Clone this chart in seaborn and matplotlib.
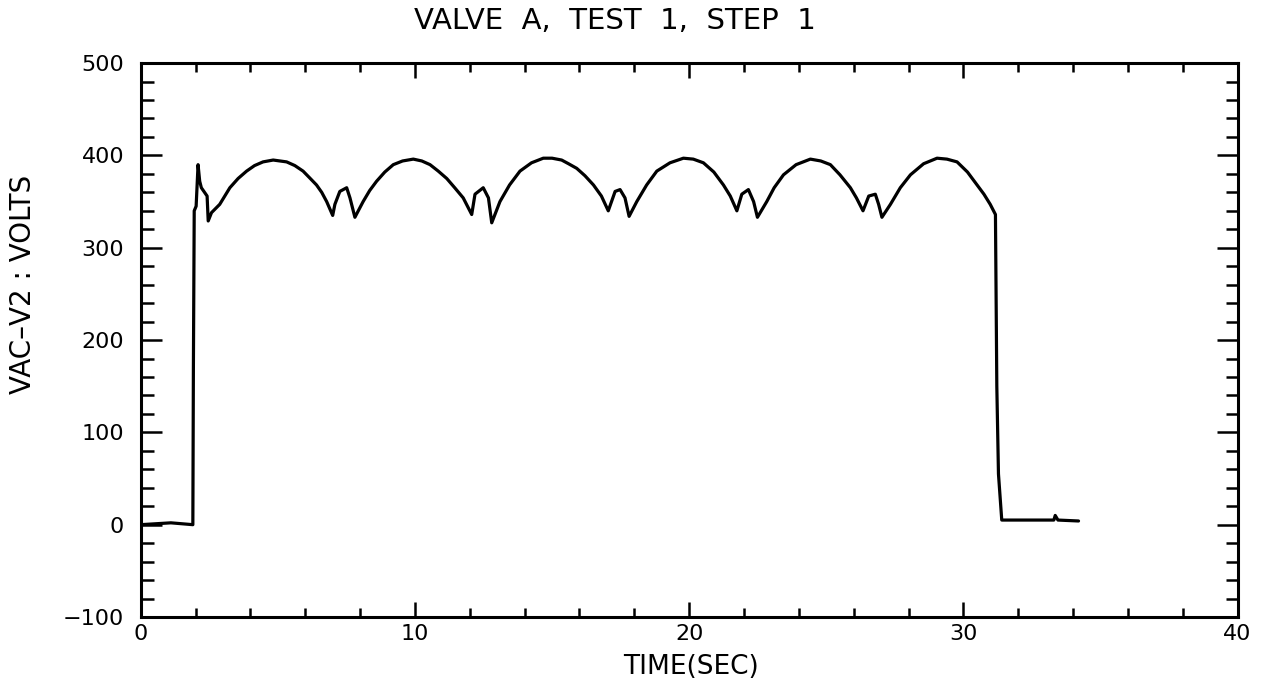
import numpy as np
import pandas as pd
from matplotlib import pyplot as plt
from matplotlib.ticker import MultipleLocator
import seaborn as sns
sns.set_style("white")
plt.rcParams['font.family'] = ['DejaVu Sans']
plt.rcParams['text.color'] = 'black'
plt.rcParams['xtick.color'] = 'black'
plt.rcParams['ytick.color'] = 'black'

# values
time_s = [0.0, 1.1, 1.9, 1.92, 1.95, 2.02, 2.09, 2.15, 2.21, 2.42, 2.46,
          2.58, 2.88, 3.25, 3.55, 3.86, 4.15, 4.46, 4.83, 5.32, 5.62, 5.92, 6.15, 6.41, 6.6, 6.78, 7.0,
          7.08, 7.26, 7.51, 7.63,
          7.81, 8.11, 8.35, 8.6, 8.9, 9.21, 9.55, 9.94, 10.25, 10.55, 10.85, 11.16, 11.45, 11.76, 12.07,
          12.19, 12.49, 12.68,
          12.8, 13.1, 13.45, 13.83, 14.25, 14.68, 15.0, 15.35, 15.6, 15.9, 16.2, 16.51, 16.8, 17.05,
          17.3, 17.48, 17.66,
          17.81, 18.09, 18.45, 18.82, 19.3, 19.79, 20.15, 20.52, 20.9, 21.25, 21.5, 21.74,
          21.92, 22.16, 22.35,
          22.49, 22.83, 23.1, 23.44, 23.9, 24.42, 24.8, 25.15, 25.5, 25.88, 26.1, 26.34,
          26.55, 26.79, 26.91,
          27.03, 27.34, 27.7, 28.07, 28.55, 29.04, 29.4, 29.77, 30.15, 30.5, 30.75, 30.98, 31.17,
          31.22, 31.28, 31.4, 33.3, 33.35, 33.45, 34.2]
volts = [0, 2, 0, 170, 340, 345, 390, 372, 365, 356, 329,
         338, 347, 365, 375, 383, 389, 393, 395, 393, 389, 383, 376, 368, 360, 350, 335,
         347, 361, 365, 354,
         333, 350, 362, 372, 382, 390, 394, 396, 394, 390, 383, 375, 365, 354, 336,
         358, 365, 354,
         327, 350, 368, 383, 392, 397, 397, 395, 391, 386, 378, 368, 356, 340,
         361, 363, 354,
         334, 350, 368, 383, 392, 397, 396, 392, 382, 368, 356, 340,
         358, 363, 350,
         333, 350, 365, 379, 390, 396, 394, 390, 379, 365, 354, 340,
         356, 358, 347,
         333, 347, 365, 379, 391, 397, 396, 393, 382, 368, 358, 347, 336,
         150, 55, 5, 5, 10, 5, 4]

title = "VALVE  A,  TEST  1,  STEP  1"
x_label = "TIME(SEC)"
y_label = "VAC\u2013V2 : VOLTS"

df = pd.DataFrame({"time": time_s, "volts": volts})

fig = plt.figure(figsize=(12.68, 6.86), dpi=100)
ax = fig.add_axes([0.111, 0.1006, 0.865, 0.8074])

sns.lineplot(data=df, x="time", y="volts", ax=ax, color="black", linewidth=2.3,
             sort=False, estimator=None)

ax.set_xlim(0, 40)
ax.set_ylim(-100, 500)
ax.xaxis.set_major_locator(MultipleLocator(10))
ax.xaxis.set_minor_locator(MultipleLocator(2))
ax.yaxis.set_major_locator(MultipleLocator(100))
ax.yaxis.set_minor_locator(MultipleLocator(20))

ax.tick_params(axis='x', which='major', direction='in', top=True, bottom=True,
               length=11, width=1.8, labelsize=16, pad=5)
ax.tick_params(axis='x', which='minor', direction='in', top=True, bottom=True,
               length=6.5, width=1.8)
ax.tick_params(axis='y', which='major', direction='in', left=True, right=True,
               length=15, width=1.8, labelsize=16, pad=12)
ax.tick_params(axis='y', which='minor', direction='in', left=True, right=True,
               length=9, width=1.8)
ax.set_yticks([-100, 0, 100, 200, 300, 400, 500])
ax.set_yticklabels(["\u2212100", "0", "100", "200", "300", "400", "500"])

for s in ax.spines.values():
    s.set_linewidth(2.2)
    s.set_color("black")

ax.set_xlabel("")
ax.set_ylabel("")
fig.text(0.485, 0.969, title, ha="center", va="center", fontsize=21)
fig.text(0.545, 0.028, x_label, ha="center", va="center", fontsize=19)
fig.text(0.018, 0.585, y_label, ha="center", va="center", rotation=90, fontsize=20)

fig.savefig("out.png", dpi=100)
